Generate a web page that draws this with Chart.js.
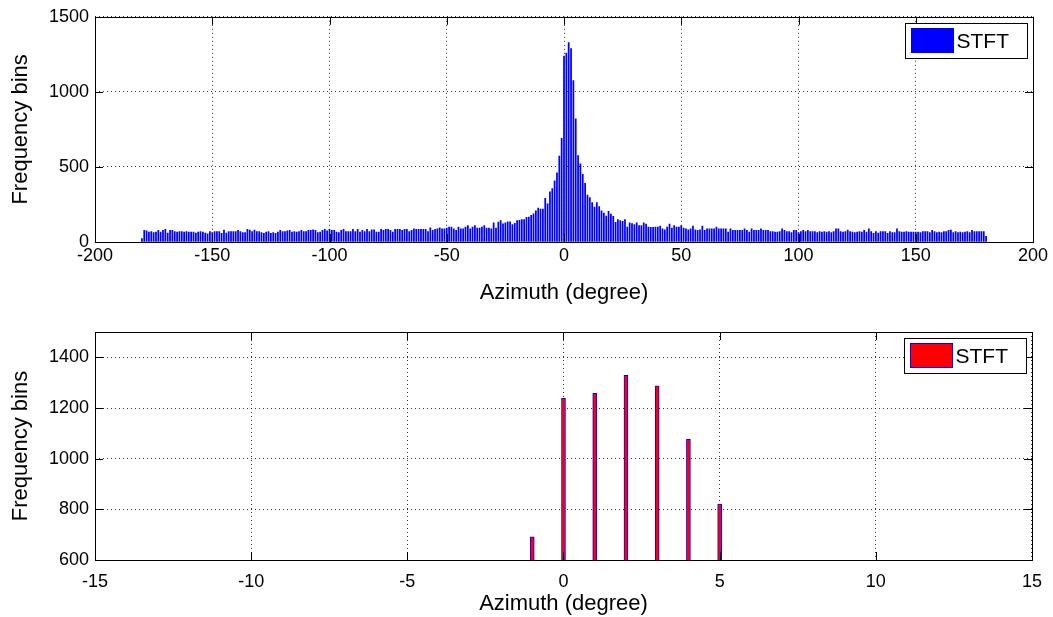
<!DOCTYPE html>
<html>
<head>
<meta charset="utf-8">
<title>STFT azimuth histogram</title>
<script src="https://cdn.jsdelivr.net/npm/chart.js@4.4.1/dist/chart.umd.min.js"></script>
<style>
  html, body { margin: 0; padding: 0; background: #fff; }
  #wrap { position: relative; width: 1053px; height: 617px; background: #fff; }
  #wrap canvas { position: absolute; left: 0; }
  #fullChart { top: 0; }
  #zoomChart { top: 310px; }
</style>
</head>
<body>
<div id="wrap">
  <canvas id="fullChart"></canvas>
  <canvas id="zoomChart"></canvas>
</div>
<script>
// frequency bins per 1-degree azimuth bin, first bin at -180
const binStart = -180;

// -180 .. -51
const countsWest = [
  22,
  77, 75, 66, 70, 62, 66, 77, 66, 77, 84,
  60, 77, 77, 70, 66, 70, 70, 66, 70, 66,
  66, 66, 60, 66, 70, 66, 60, 55, 70, 62,
  70, 70, 70, 58, 79, 60, 70, 70, 70, 70,
  77, 70, 62, 62, 84, 79, 70, 79, 70, 70,
  62, 58, 66, 70, 58, 62, 58, 66, 77, 70,
  70, 75, 77, 66, 70, 66, 70, 77, 70, 70,
  77, 77, 81, 77, 62, 66, 77, 84, 75,
  84, 77, 77, 66, 62, 77, 84, 70, 70, 70,
  84, 70, 84, 66, 77, 70, 84, 70, 81, 81,
  66, 66, 84, 77, 84, 84, 77, 66, 84, 84,
  84, 77, 84, 84, 70, 77, 88, 84, 84, 84,
  84, 84, 70, 95, 77, 84, 88, 95, 88, 88
];

// -50 .. 50
const countsCentre = [
  92, 99, 99, 88, 77, 99, 88, 88, 99, 110,
  88, 99, 110, 92, 92, 99, 110, 92, 92, 88,
  128, 92, 132, 143, 121,
  127, 134, 134, 116, 125, 142, 145, 149, 149, 164,
  166, 177, 188, 208, 226, 219, 219, 291, 254, 335,
  355, 407, 460, 572, 691,
  1239, 1258, 1329, 1288, 1076, 821, 576, 521, 451, 390,
  313, 296, 263, 232, 263, 236, 208, 193, 173, 205,
  186, 171, 131, 149, 142, 138, 149, 99, 127, 123,
  116,
  128, 110, 110, 128, 119, 99, 97, 97, 99, 99,
  106, 88, 81, 99, 119, 92, 110, 99, 99, 110
];

// 51 .. 180
const countsEast = [
  92, 88, 81, 88, 106, 81, 77, 81, 106, 77,
  88, 88, 88, 88, 99, 88, 88, 88, 88, 66,
  88, 77, 77, 77, 77, 77, 88, 77, 66, 88,
  77, 77, 77, 88, 77, 77, 77, 70, 70, 66,
  66, 70, 88, 77, 70, 70, 62, 77, 77, 62,
  70, 77, 70, 77, 70, 70, 70, 62, 70,
  66, 70, 66, 70, 62, 70, 88, 88, 70, 66,
  70, 79, 70, 66, 62, 66, 70, 66, 77, 66,
  88, 70, 58, 70, 60, 70, 70, 70, 58, 70,
  62, 62, 88, 70, 66, 66, 70, 66, 66, 66,
  66, 66, 62, 70, 70, 70, 62, 77, 70, 62,
  66, 62, 70, 70, 77, 79, 62, 70, 62, 66,
  62, 66, 70, 62, 77, 70, 70, 70, 70, 70,
  37
];

const stftCounts = countsWest.concat(countsCentre, countsEast);
const azimuthBins = stftCounts.map((_, i) => binStart + i);

const fullXTicks = [-200, -150, -100, -50, 0, 50, 100, 150, 200];
const fullYTicks = [0, 500, 1000, 1500];
const zoomXTicks = [-15, -10, -5, 0, 5, 10, 15];
const zoomYTicks = [600, 800, 1000, 1200, 1400];
const zoomYMax = 1500;

const xTitle = 'Azimuth (degree)';
const yTitle = 'Frequency bins';
const seriesName = 'STFT';

Chart.defaults.font.family = '"Liberation Sans", Arial, Helvetica, sans-serif';
Chart.defaults.color = '#000';
Chart.defaults.animation = false;

const points = azimuthBins.map((x, i) => ({ x: x, y: stftCounts[i] }));

// box, inward tick marks and the little legend, drawn like a matlab axes
const axesFrame = {
  id: 'axesFrame',
  afterDatasetsDraw(chart) {
    const { ctx, chartArea: a, scales } = chart;
    const len = 8;
    ctx.save();
    ctx.strokeStyle = '#000';
    ctx.lineWidth = 1;
    ctx.beginPath();
    scales.x.ticks.forEach(t => {
      const px = Math.round(scales.x.getPixelForValue(t.value)) + 0.5;
      ctx.moveTo(px, a.bottom); ctx.lineTo(px, a.bottom - len);
      ctx.moveTo(px, a.top); ctx.lineTo(px, a.top + len);
    });
    scales.y.ticks.forEach(t => {
      const py = Math.round(scales.y.getPixelForValue(t.value)) + 0.5;
      ctx.moveTo(a.left, py); ctx.lineTo(a.left + len, py);
      ctx.moveTo(a.right, py); ctx.lineTo(a.right - len, py);
    });
    ctx.stroke();
    ctx.strokeRect(Math.round(a.left) + 0.5, Math.round(a.top) + 0.5,
      Math.round(a.right - a.left), Math.round(a.bottom - a.top));
    ctx.restore();
  },
  afterDraw(chart) {
    const { ctx, chartArea: a } = chart;
    const ds = chart.data.datasets[0];
    const w = 122, h = 35;
    const x = Math.round(a.right - 6 - w) + 0.5;
    const y = Math.round(a.top + 6) + 0.5;
    ctx.save();
    ctx.fillStyle = '#fff';
    ctx.fillRect(x, y, w, h);
    ctx.strokeStyle = '#000';
    ctx.lineWidth = 1;
    ctx.strokeRect(x, y, w, h);
    ctx.fillStyle = ds.backgroundColor;
    ctx.fillRect(x + 6, y + 5, 42, 24);
    ctx.strokeStyle = ds.borderColor;
    ctx.strokeRect(x + 6, y + 5, 42, 24);
    ctx.fillStyle = '#000';
    ctx.font = '21px "Liberation Sans", Arial, sans-serif';
    ctx.textBaseline = 'middle';
    ctx.fillText(ds.label, x + 51, y + h / 2 + 1);
    ctx.restore();
  }
};

const plainNumber = v => String(v);

function makeScales(xTicks, yTicks, yMax, xHeight, xPad) {
  return {
    x: {
      type: 'linear',
      min: xTicks[0],
      max: xTicks[xTicks.length - 1],
      offset: false,
      afterBuildTicks: axis => { axis.ticks = xTicks.map(v => ({ value: v })); },
      afterFit: axis => { axis.height = xHeight; },
      grid: { offset: false, drawTicks: false, color: 'rgba(0,0,0,0.8)', lineWidth: 1 },
      border: { display: false, dash: [1, 3] },
      ticks: { font: { size: 18 }, padding: xPad, maxRotation: 0, autoSkip: false, callback: plainNumber },
      title: { display: true, text: xTitle, font: { size: 22 }, padding: { top: 0, bottom: 0 } }
    },
    y: {
      type: 'linear',
      min: yTicks[0],
      max: yMax,
      afterBuildTicks: axis => { axis.ticks = yTicks.map(v => ({ value: v })); },
      afterFit: axis => { axis.width = 95; },
      grid: { drawTicks: false, color: 'rgba(0,0,0,0.8)', lineWidth: 1 },
      border: { display: false, dash: [1, 3] },
      ticks: { font: { size: 18 }, padding: 6, autoSkip: false, callback: plainNumber },
      title: { display: true, text: yTitle, font: { size: 22 }, padding: { top: 8, bottom: 0 } }
    }
  };
}

function makeChart(id, width, height, dataset, scales, padding) {
  const canvas = document.getElementById(id);
  canvas.width = width;
  canvas.height = height;
  canvas.style.width = width + 'px';
  canvas.style.height = height + 'px';
  return new Chart(canvas, {
    type: 'bar',
    data: { datasets: [dataset] },
    options: {
      responsive: false,
      devicePixelRatio: 1,
      layout: { padding: padding },
      plugins: { legend: { display: false }, tooltip: { enabled: false } },
      scales: scales
    },
    plugins: [axesFrame]
  });
}

// full azimuth range
makeChart('fullChart', 1053, 310, {
  label: seriesName,
  data: points,
  backgroundColor: '#0000ff',
  borderColor: '#0000ff',
  borderWidth: 0,
  barThickness: 1.1
}, makeScales(fullXTicks, fullYTicks, fullYTicks[fullYTicks.length - 1], 64, 3),
  { top: 15, right: 20, bottom: 4, left: 0 });

// close-up around the peak
makeChart('zoomChart', 1053, 307, {
  label: seriesName,
  data: points,
  backgroundColor: '#ff0000',
  borderColor: '#0000ff',
  borderWidth: 1,
  barThickness: 4
}, makeScales(zoomXTicks, zoomYTicks, zoomYMax, 57, 11),
  { top: 22, right: 21, bottom: 0, left: 0 });
</script>
</body>
</html>
